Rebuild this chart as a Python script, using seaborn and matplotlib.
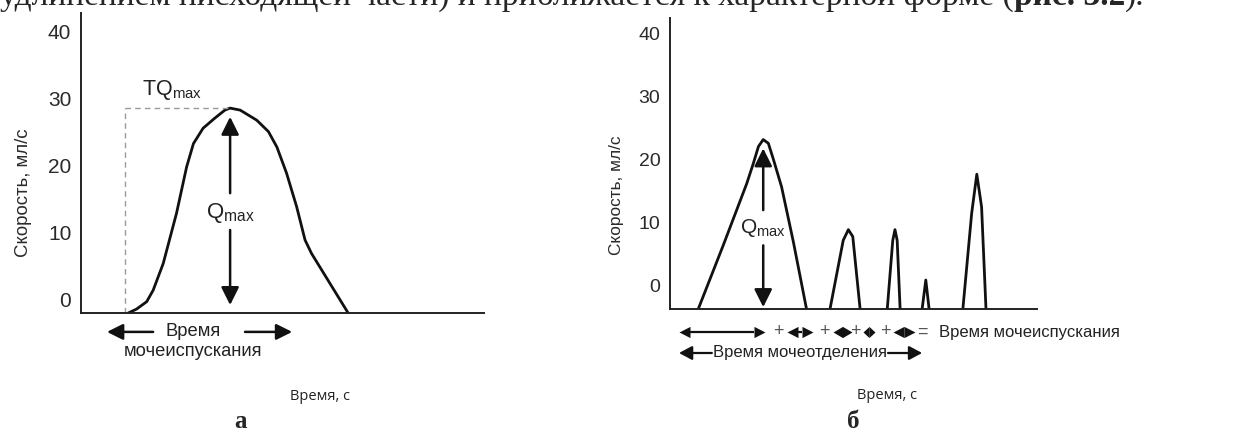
import matplotlib
matplotlib.use("Agg")
import matplotlib.pyplot as plt
import seaborn as sns
import pandas as pd

# ---------------- data ----------------
# panel а : single normal flow curve
a_time = [11.7, 13.8, 16.3, 17.9, 20.4, 23.7, 26.2, 27.9, 30.3, 33.2, 35.7, 37.0,
          39.5, 43.6, 46.5, 48.6, 51.0, 53.5, 55.6, 57.2, 61.8, 66.3]
a_flow = [-2.1, -1.5, -0.4, 1.3, 5.3, 12.8, 19.7, 23.2, 25.5, 27.0, 28.2, 28.5,
          28.2, 26.7, 25.0, 22.7, 18.8, 13.8, 8.8, 6.8, 2.3, -2.1]

# panel б : intermittent flow, five peaks
b_peak = [1] * 11 + [2] * 5 + [3] * 5 + [4] * 3 + [5] * 5
b_time = [7.7, 14.5, 20.9, 22.7, 24.1, 25.4, 26.8, 28.1, 30.4, 33.6, 37.2,
          43.6, 47.2, 48.6, 49.8, 51.8,
          59.2, 60.7, 61.3, 61.9, 62.7,
          68.7, 69.7, 70.6,
          79.8, 82.2, 83.6, 84.9, 86.1]
b_flow = [-3.8, 6.3, 16.1, 19.3, 22.0, 23.1, 22.5, 20.1, 15.6, 6.9, -3.8,
          -3.8, 7.1, 8.8, 7.7, -3.8,
          -3.8, 7.1, 8.8, 7.1, -3.8,
          -3.8, 0.8, -3.8,
          -3.8, 11.4, 17.6, 12.4, -3.8]

y_ticks = [0, 10, 20, 30, 40]
y_label = "Скорость, мл/с"
x_label = "Время, с"
tq_start = 10.9
tq_value = 28.5
qmax_a = (37.0, 27.2)
qmax_b = (25.4, 21.7)
# segment arrows under panel б (start, end)
b_segments = [(2.45, 25.9), (31.9, 39.0), (44.4, 49.6), (52.6, 55.9), (60.8, 66.8)]
b_plus = [29.4, 42.0, 50.4, 58.6]

top_text_normal = "удлинением нисходящей части) и приближается к характерной форме ("
top_text_bold = "рис. 3.2"
top_text_end = ")."

# ---------------- style ----------------
sns.set_theme(style="white")
plt.rcParams["font.family"] = ["Liberation Sans", "DejaVu Sans"]
plt.rcParams["mathtext.fontset"] = "custom"
plt.rcParams["mathtext.rm"] = "Liberation Sans"
plt.rcParams["mathtext.it"] = "Liberation Sans"

W, H = 1233, 432
fig = plt.figure(figsize=(W / 100, H / 100), dpi=100)
fig.patch.set_facecolor("white")

ax_a = fig.add_axes([81 / W, (H - 313) / H, 403 / W, 300 / H])
ax_b = fig.add_axes([670 / W, (H - 309) / H, 367 / W, 291 / H])

df_a = pd.DataFrame({"t": a_time, "q": a_flow})
df_b = pd.DataFrame({"t": b_time, "q": b_flow, "peak": b_peak})

sns.lineplot(data=df_a, x="t", y="q", ax=ax_a, color="#111111", lw=2.0,
             sort=False, estimator=None)
sns.lineplot(data=df_b, x="t", y="q", units="peak", ax=ax_b, color="#111111",
             lw=2.0, sort=False, estimator=None)

ax_a.set_xlim(0, 100)
ax_a.set_ylim(-2.09, 42.7)
ax_b.set_xlim(0, 100)
ax_b.set_ylim(-3.8, 42.4)

tick_col = "#2a2a2a"
for ax, tsz, lsz in ((ax_a, 15, 13.4), (ax_b, 14, 12.4)):
    sns.despine(ax=ax)
    for s in ("left", "bottom"):
        ax.spines[s].set_color("#222222")
        ax.spines[s].set_linewidth(1.4)
    ax.set_xticks([])
    ax.set_yticks(y_ticks)
    ax.set_yticklabels([str(v) for v in y_ticks])
    ax.tick_params(axis="y", length=0, pad=7, labelsize=tsz, labelcolor=tick_col)
    ax.set_ylabel(y_label, fontsize=lsz, color=tick_col)
    ax.set_xlabel(x_label, fontsize=10.5, color="#222222", family=["Open Sans", "DejaVu Sans"])

ax_a.yaxis.set_label_coords(-0.122, 0.40)
ax_b.yaxis.set_label_coords(-0.125, 0.392)
ax_a.xaxis.set_label_coords(0.593, -0.253)
ax_b.xaxis.set_label_coords(0.591, -0.271)

# ---- panel а annotations ----
ax_a.plot([tq_start, tq_start], [-2.09, tq_value], ls=(0, (4, 3)), color="#9a9a9a", lw=1.0)
ax_a.plot([tq_start, qmax_a[0]], [tq_value, tq_value], ls=(0, (4, 3)), color="#9a9a9a", lw=1.0)
ax_a.text(22.6, 31.2, r"TQ$_{\mathrm{max}}$", fontsize=15.5, color="#222222",
          ha="center", va="center")
ax_a.text(qmax_a[0], 12.8, r"Q$_{\mathrm{max}}$", fontsize=16, color="#222222",
          ha="center", va="center")
arr = dict(arrowstyle="-|>,head_length=0.6,head_width=0.3", color="#111111", lw=1.8,
           shrinkA=0, shrinkB=0, mutation_scale=18)
ax_a.annotate("", xy=(qmax_a[0], qmax_a[1]), xytext=(qmax_a[0], 15.8), arrowprops=arr)
ax_a.annotate("", xy=(qmax_a[0], -0.9), xytext=(qmax_a[0], 10.3), arrowprops=arr)

tr_a = ax_a.get_xaxis_transform()
arr2 = dict(arrowstyle="-|>,head_length=0.6,head_width=0.3", color="#111111", lw=1.8,
            shrinkA=0, shrinkB=0, mutation_scale=16)
ax_a.annotate("", xy=(6.45, -0.063), xytext=(17.9, -0.063), xycoords=tr_a,
              textcoords=tr_a, arrowprops=arr2, annotation_clip=False)
ax_a.annotate("", xy=(52.4, -0.063), xytext=(40.7, -0.063), xycoords=tr_a,
              textcoords=tr_a, arrowprops=arr2, annotation_clip=False)
ax_a.text(27.8, -0.063, "Время", transform=tr_a, ha="center", va="center",
          fontsize=13.2, color="#222222", clip_on=False)
ax_a.text(27.8, -0.13, "мочеиспускания", transform=tr_a, ha="center", va="center",
          fontsize=13.2, color="#222222", clip_on=False)

# ---- panel б annotations ----
ax_b.text(qmax_b[0], 9.0, r"Q$_{\mathrm{max}}$", fontsize=15, color="#222222",
          ha="center", va="center")
ax_b.annotate("", xy=(qmax_b[0], qmax_b[1]), xytext=(qmax_b[0], 11.9), arrowprops=arr)
ax_b.annotate("", xy=(qmax_b[0], -3.5), xytext=(qmax_b[0], 6.3), arrowprops=arr)

tr_b = ax_b.get_xaxis_transform()
row1 = -(332 - 309) / 291
row2 = -(353 - 309) / 291
# double arrows: line + triangular heads whose tips sit exactly on the ends;
# head length is limited to half the segment so short ones become diamonds
px_per_unit = 367.0 / (ax_b.get_xlim()[1] - ax_b.get_xlim()[0])
head_len_px, head_half_px = 11.0, 5.6
for s0, s1 in b_segments:
    seg_px = (s1 - s0) * px_per_unit
    lp = min(head_len_px, seg_px / 2)
    m = max(lp, head_half_px)
    ms = 2 * m * 72 / 100
    right_head = [(0, 0), (-lp / m, head_half_px / m), (-lp / m, -head_half_px / m), (0, 0)]
    left_head = [(0, 0), (lp / m, head_half_px / m), (lp / m, -head_half_px / m), (0, 0)]
    inset = lp / px_per_unit
    if s1 - s0 > 2 * inset + 0.2:
        ax_b.plot([s0 + inset, s1 - inset], [row1, row1], transform=tr_b,
                  color="#111111", lw=1.6, clip_on=False, solid_capstyle="butt")
    ax_b.plot([s0], [row1], marker=left_head, ms=ms, color="#111111", mew=0,
              transform=tr_b, clip_on=False)
    ax_b.plot([s1], [row1], marker=right_head, ms=ms, color="#111111", mew=0,
              transform=tr_b, clip_on=False)
for p in b_plus:
    ax_b.text(p, row1, "+", transform=tr_b, ha="center", va="center", fontsize=13,
              color="#555555", clip_on=False)
ax_b.text(68.9, row1, "=", transform=tr_b, ha="center", va="center", fontsize=13,
          color="#555555", clip_on=False)
ax_b.text(73.3, row1, "Время мочеиспускания", transform=tr_b, ha="left", va="center",
          fontsize=12, color="#222222", clip_on=False)
harr = dict(arrowstyle="-|>,head_length=0.6,head_width=0.32", color="#111111", lw=1.6,
            shrinkA=0, shrinkB=0, mutation_scale=13)
ax_b.annotate("", xy=(2.45, row2), xytext=(11.4, row2), xycoords=tr_b, textcoords=tr_b,
              arrowprops=harr, annotation_clip=False)
ax_b.annotate("", xy=(68.7, row2), xytext=(59.4, row2), xycoords=tr_b, textcoords=tr_b,
              arrowprops=harr, annotation_clip=False)
ax_b.text(35.4, row2, "Время мочеотделения", transform=tr_b, ha="center", va="center",
          fontsize=12, color="#222222", clip_on=False)

# panel letters
serif = ["Liberation Serif", "DejaVu Serif"]
fig.text(240 / W, 1 - 422 / H, "а", family=serif, fontweight="bold", fontsize=18,
         ha="center", va="center")
fig.text(853 / W, 1 - 421 / H, "б", family=serif, fontweight="bold", fontsize=18,
         ha="center", va="center")

# clipped line of body text above the figure
fs = 22
yb = 1 - 5 / H
t1 = fig.text(0, yb, top_text_normal, family=serif, fontsize=fs, va="baseline", ha="left")
fig.canvas.draw()
r = fig.canvas.get_renderer()
w1 = t1.get_window_extent(r).width
t2 = fig.text(w1 / W, yb, top_text_bold, family=serif, fontsize=fs, fontweight="bold",
              va="baseline", ha="left")
w2 = t2.get_window_extent(r).width
t3 = fig.text((w1 + w2) / W, yb, top_text_end, family=serif, fontsize=fs,
              va="baseline", ha="left")
w3 = t3.get_window_extent(r).width
scale = 1145 / (w1 + w2 + w3)
fs2 = fs * scale
for t in (t1, t2, t3):
    t.set_fontsize(fs2)
fig.canvas.draw()
w1 = t1.get_window_extent(r).width
w2 = t2.get_window_extent(r).width
t2.set_x(w1 / W)
t3.set_x((w1 + w2) / W)

fig.savefig("out.png", dpi=100, facecolor="white")
